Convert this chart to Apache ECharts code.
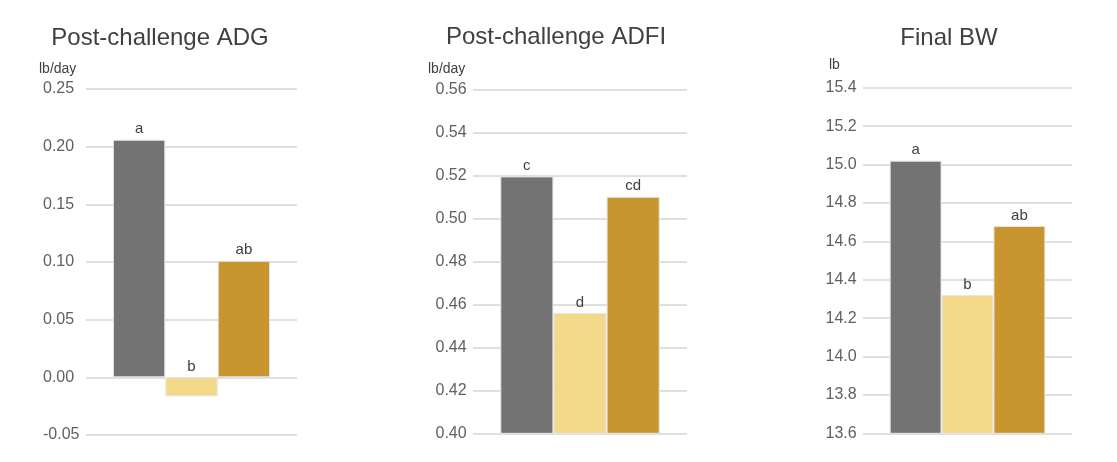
<!DOCTYPE html>
<html>
<head>
<meta charset="utf-8">
<script src="https://cdn.jsdelivr.net/npm/echarts@6/dist/echarts.min.js"></script>
<style>
html,body{margin:0;padding:0;background:#fff;}
#chart{width:1117px;height:462px;}
</style>
</head>
<body>
<div id="chart"></div>
<script>
// ---- data ----
const panelTitles = ['Post-challenge ADG', 'Post-challenge ADFI', 'Final BW'];
const panelUnits = ['lb/day', 'lb/day', 'lb'];
const treatments = ['Treatment 1', 'Treatment 2', 'Treatment 3'];
const adgValues = [0.206, -0.0165, 0.101];
const adgLetters = ['a', 'b', 'ab'];
const adfiValues = [0.5195, 0.456, 0.510];
const adfiLetters = ['c', 'd', 'cd'];
const bwValues = [15.02, 14.32, 14.68];
const bwLetters = ['a', 'b', 'ab'];
const adgTicks = {min: -0.05, max: 0.25, interval: 0.05, decimals: 2};
const adfiTicks = {min: 0.40, max: 0.56, interval: 0.02, decimals: 2};
const bwTicks = {min: 13.6, max: 15.4, interval: 0.2, decimals: 1};

// ---- styling / layout ----
const colors = ['#737373', '#f5d98b', '#c9952f'];
const panelValues = [adgValues, adfiValues, bwValues];
const panelLetters = [adgLetters, adfiLetters, bwLetters];
const panelTicks = [adgTicks, adfiTicks, bwTicks];
const grids = [
  {left: 86, top: 89, width: 211, height: 346},
  {left: 473, top: 89.3, width: 214, height: 344},
  {left: 863, top: 87.7, width: 209, height: 345.6}
];
const labelMargins = [43, 37.5, 37.5];
const titlePos = [[160, 38], [556, 37], [949, 38]];
const unitPos = [[39, 69], [428, 69], [829, 65]];

const option = {
  animation: false,
  backgroundColor: '#ffffff',
  grid: grids.map(g => Object.assign({containLabel: false}, g)),
  xAxis: grids.map((g, i) => ({
    type: 'category', gridIndex: i, data: [''],
    axisLine: {show: false}, axisTick: {show: false}, axisLabel: {show: false}
  })),
  yAxis: panelTicks.map((t, i) => ({
    type: 'value', gridIndex: i, min: t.min, max: t.max, interval: t.interval,
    axisLine: {show: false}, axisTick: {show: false},
    splitLine: {lineStyle: {color: '#d4d4d4', width: 1.5}},
    axisLabel: {
      color: '#606060', fontSize: 16, fontFamily: 'Liberation Sans, Arial, sans-serif',
      align: 'left', margin: labelMargins[i],
      formatter: v => Number(v).toFixed(t.decimals)
    }
  })),
  series: [],
  graphic: []
};

panelValues.forEach((vals, p) => {
  vals.forEach((v, k) => {
    option.series.push({
      type: 'bar', name: treatments[k], xAxisIndex: p, yAxisIndex: p,
      data: [v], barGap: '0%', barCategoryGap: '25.5%',
      itemStyle: {color: colors[k], borderColor: '#e6e6e6', borderWidth: 1},
      label: {
        show: true, position: 'top', distance: 3,
        formatter: () => panelLetters[p][k],
        color: '#404040', fontSize: 15, fontFamily: 'Liberation Sans, Arial, sans-serif'
      }
    });
  });
  option.graphic.push({
    type: 'text', x: titlePos[p][0], y: titlePos[p][1],
    style: {text: panelTitles[p], fill: '#404040', fontSize: 24,
      fontFamily: 'Liberation Sans, Arial, sans-serif', textAlign: 'center', textVerticalAlign: 'middle'}
  });
  option.graphic.push({
    type: 'text', x: unitPos[p][0], y: unitPos[p][1],
    style: {text: panelUnits[p], fill: '#404040', fontSize: 14,
      fontFamily: 'Liberation Sans, Arial, sans-serif', textAlign: 'left', textVerticalAlign: 'middle'}
  });
});

const chart = echarts.init(document.getElementById('chart'), null, {renderer: 'canvas'});
chart.setOption(option);
</script>
</body>
</html>
